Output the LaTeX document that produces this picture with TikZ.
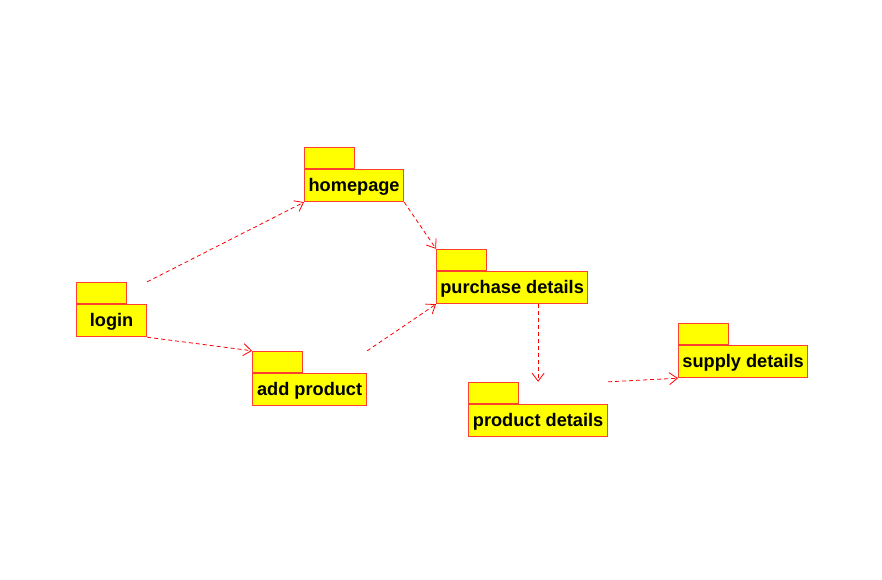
\documentclass[tikz,border=0pt]{standalone}
\usepackage{fontspec}
\setmainfont{Liberation Sans}
\usetikzlibrary{arrows.meta,calc}
\definecolor{pkgline}{RGB}{255,64,48}
\definecolor{pkgfill}{RGB}{255,255,0}
\definecolor{dep}{RGB}{255,0,0}
\tikzset{
  pkgbody/.style={draw=pkgline, fill=pkgfill, line width=1.2pt, anchor=north west,
    minimum height=32pt, inner sep=0pt, text height=14pt, text depth=2pt,
    font=\fontsize{18.2}{20}\selectfont\bfseries, text=black},
  pkgtab/.style={draw=pkgline, fill=pkgfill, line width=1.2pt, anchor=south west,
    minimum width=50pt, minimum height=21pt, inner sep=0pt},
  depline/.style={draw=dep, line width=0.8pt, dash pattern=on 4pt off 3pt,
    -{Straight Barb[length=8pt,width=12pt,line width=0.8pt]}}
}
\begin{document}
\begin{tikzpicture}[x=1pt,y=-1pt]
\useasboundingbox (0,0) rectangle (882,579);
% packages
\node[pkgbody, minimum width=70pt] (login) at (76,304) {login};
\node[pkgtab] (logintab) at (login.north west) {};
\node[pkgbody, minimum width=99pt] (home) at (304,169) {homepage};
\node[pkgtab] (hometab) at (home.north west) {};
\node[pkgbody, minimum width=151pt] (purch) at (436,271) {purchase details};
\node[pkgtab] (purchtab) at (purch.north west) {};
\node[pkgbody, minimum width=114pt] (add) at (252,373) {add product};
\node[pkgtab] (addtab) at (add.north west) {};
\node[pkgbody, minimum width=139pt] (prod) at (468,404) {product details};
\node[pkgtab] (prodtab) at (prod.north west) {};
\node[pkgbody, minimum width=129pt] (supp) at (678,345) {supply details};
\node[pkgtab] (supptab) at (supp.north west) {};
% dependencies
\draw[depline] (login.north east |- logintab.north) -- (home.south west);
\draw[depline] (home.south east) -- (purchtab.north west);
\draw[depline] (login.south east) -- (addtab.north west);
\draw[depline] (add.north east |- addtab.north) -- (purch.south west);
\draw[depline] (purch.south -| prod.north) -- (prod.north |- prodtab.north);
\draw[depline] (prod.north east |- prodtab.north) -- (supp.south west);
\end{tikzpicture}
\end{document}
